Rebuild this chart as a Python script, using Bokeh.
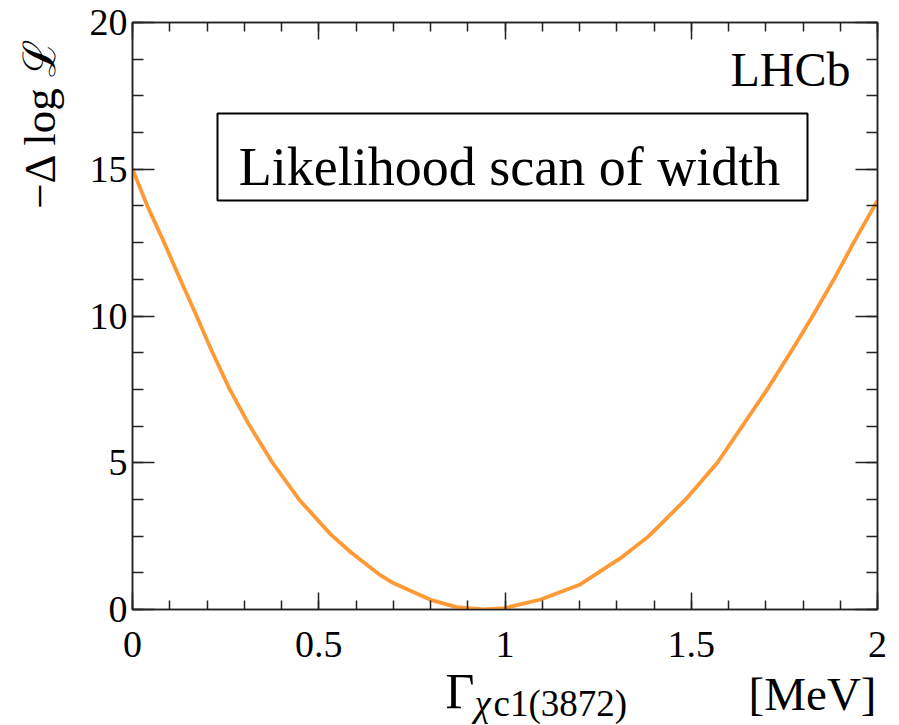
import math
from bokeh.plotting import figure
from bokeh.layouts import row, column
from bokeh.models import (FixedTicker, LinearAxis, Label, BoxAnnotation, Range1d)
from bokeh.embed import file_html
from bokeh.resources import INLINE

# ---- data ----
GAMMA = [0.0, 0.04, 0.085, 0.128, 0.172, 0.215, 0.261, 0.315, 0.376, 0.447,
         0.532, 0.586, 0.662, 0.70, 0.80, 0.87, 0.943, 1.0, 1.096, 1.20,
         1.31, 1.386, 1.485, 1.570, 1.637, 1.704, 1.766, 1.826, 1.883, 1.936, 2.0]
NLL = [15.0, 13.75, 12.5, 11.25, 10.0, 8.75, 7.5, 6.25, 5.0, 3.75,
       2.56, 1.95, 1.2, 0.9, 0.33, 0.08, 0.0, 0.05, 0.34, 0.84,
       1.75, 2.5, 3.75, 5.0, 6.25, 7.5, 8.75, 10.0, 11.25, 12.5, 13.94]

X_TICKS = [0, 0.5, 1, 1.5, 2]
X_TICK_LABELS = ["0", "0.5", "1", "1.5", "2"]
X_MINOR = [i / 10 for i in range(0, 21)]
Y_TICKS = [0, 5, 10, 15, 20]
Y_TICK_LABELS = ["0", "5", "10", "15", "20"]
Y_MINOR = [i * 1.25 for i in range(0, 17)]

SERIF = "Liberation Serif"
LINE_COLOR = "#fd9a36"
AXIS_COLOR = "#222222"

# page geometry (pixels)
W, H = 899, 725
LEFT_STRIP = 70
FL, FR, FT, FB = 132, 877, 22, 609
MAIN_H = 664
MID = 0.37  # em-middle above the baseline

def put(fig, text, x, y_base, size, align="left", angle=0.0, style="normal"):
    """x,y_base: offsets (px) from the figure's frame left / bottom; y_base is the baseline."""
    if angle == 0.0:
        y = y_base + MID * size
        xx = x
    else:
        y = y_base
        xx = x - MID * size
    fig.add_layout(Label(x=xx, y=y, x_units="screen", y_units="screen",
                         text=text, text_font=SERIF, text_font_size=f"{size}px",
                         text_align=align, text_baseline="middle",
                         angle=angle, text_color="black", text_font_style=style))

def make_axis(ticks, minor, labels, major_len, minor_len, show):
    ax = LinearAxis(ticker=FixedTicker(ticks=ticks, minor_ticks=minor))
    ax.axis_line_color = AXIS_COLOR
    ax.axis_line_width = 1.5
    ax.major_tick_line_color = AXIS_COLOR
    ax.minor_tick_line_color = AXIS_COLOR
    ax.major_tick_line_width = 1.5
    ax.minor_tick_line_width = 1.5
    ax.major_tick_in = major_len
    ax.major_tick_out = 0
    ax.minor_tick_in = minor_len
    ax.minor_tick_out = 0
    ax.major_label_text_font = SERIF
    ax.major_label_text_font_size = "38px"
    ax.major_label_text_color = "black"
    if show:
        ax.major_label_overrides = {t: l for t, l in zip(ticks, labels)}
    else:
        ax.major_label_overrides = {t: "" for t in ticks}
        ax.major_label_standoff = 0
    return ax

# ---------------- main plot ----------------
p = figure(width=W - LEFT_STRIP, height=MAIN_H, output_backend="svg", toolbar_location=None,
           x_range=Range1d(0, 2), y_range=Range1d(0, 20),
           min_border_left=FL - LEFT_STRIP, min_border_right=W - FR,
           min_border_top=FT, min_border_bottom=MAIN_H - FB,
           x_axis_location=None, y_axis_location=None)
p.grid.visible = False
p.outline_line_color = AXIS_COLOR
p.outline_line_width = 1.5
p.background_fill_color = "white"
p.border_fill_color = "white"

xb = make_axis(X_TICKS, X_MINOR, X_TICK_LABELS, 17, 9, True)
xb.major_label_standoff = 22
p.add_layout(xb, "below")
p.add_layout(make_axis(X_TICKS, X_MINOR, X_TICK_LABELS, 17, 9, False), "above")
yl = make_axis(Y_TICKS, Y_MINOR, Y_TICK_LABELS, 22, 11, True)
yl.major_label_standoff = 5
p.add_layout(yl, "left")
p.add_layout(make_axis(Y_TICKS, Y_MINOR, Y_TICK_LABELS, 22, 11, False), "right")

p.line(GAMMA, NLL, line_color=LINE_COLOR, line_width=3.8, line_join="round")

p.add_layout(BoxAnnotation(left=217 - FL, right=807 - FL, top=FB - 113, bottom=FB - 200,
                           left_units="screen", right_units="screen",
                           top_units="screen", bottom_units="screen",
                           fill_color="white", fill_alpha=1.0,
                           line_color="black", line_alpha=1.0, line_width=2,
                           level="underlay"))
put(p, "Likelihood scan of width", 509 - FL, FB - 186, 54, align="center")
put(p, "LHCb", 850 - FL, FB - 87, 48, align="right")

# ---------------- bottom strip: x-axis title ----------------
bs = figure(width=W - LEFT_STRIP, height=H - MAIN_H, output_backend="svg", toolbar_location=None,
            x_range=Range1d(0, 1), y_range=Range1d(0, 1),
            min_border_left=FL - LEFT_STRIP, min_border_right=W - FR,
            min_border_top=0, min_border_bottom=0,
            x_axis_location=None, y_axis_location=None)
bs.grid.visible = False
bs.outline_line_color = None
bs.background_fill_color = "white"
bs.border_fill_color = "white"

SB = H  # strip frame bottom in page pixels
put(bs, "Γ", 445 - FL, SB - 709, 50)
put(bs, "χ", 474 - FL, SB - 717, 37, style="italic")
put(bs, "c1(3872)", 493 - FL, SB - 717, 37)
put(bs, "[MeV]", 876 - FL, SB - 711, 47, align="right")

# ---------------- left strip: y-axis title ----------------
ls = figure(width=LEFT_STRIP, height=H, output_backend="svg", toolbar_location=None,
            x_range=Range1d(0, 1), y_range=Range1d(0, 1),
            min_border_left=0, min_border_right=0, min_border_top=0, min_border_bottom=0,
            x_axis_location=None, y_axis_location=None)
ls.grid.visible = False
ls.outline_line_color = None
ls.background_fill_color = "white"
ls.border_fill_color = "white"
put(ls, "−Δ log ℒ", 56, H - 37, 45, align="right", angle=math.pi / 2)

layout = row(ls, column(p, bs))
open("out.html", "w").write(file_html(layout, INLINE))
